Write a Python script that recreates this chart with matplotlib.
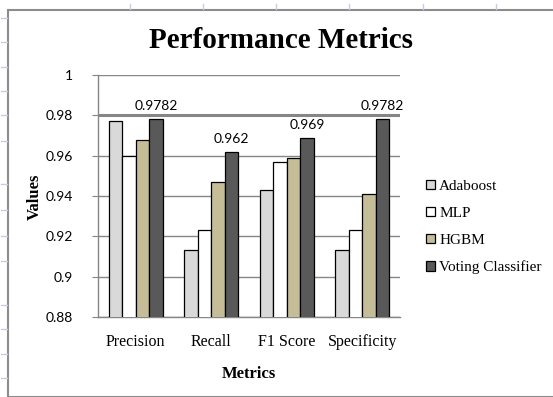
import matplotlib
matplotlib.use("Agg")
import matplotlib.pyplot as plt
from matplotlib.patches import Rectangle
import numpy as np

metrics = ['Precision', 'Recall', 'F1 Score', 'Specificity']
models = ['Adaboost', 'MLP', 'HGBM', 'Voting Classifier']
adaboost = [0.977, 0.913, 0.943, 0.913]
mlp = [0.960, 0.923, 0.957, 0.923]
hgbm = [0.968, 0.947, 0.959, 0.941]
voting = [0.9782, 0.962, 0.969, 0.9782]
voting_labels = ['0.9782', '0.962', '0.969', '0.9782']
colors = ['#d9d9d9', '#ffffff', '#c4bd97', '#595959']
yticks = [0.88, 0.9, 0.92, 0.94, 0.96, 0.98, 1.0]
ytick_labels = ['0.88', '0.9', '0.92', '0.94', '0.96', '0.98', '1']

serif = 'Liberation Serif'
sans = 'Lato'

W, H = 553, 397
fig = plt.figure(figsize=(W / 100, H / 100), dpi=100)
fig.patch.set_facecolor('white')

# spreadsheet behind the chart: border and faint row/column marks
fig.add_artist(Rectangle((8 / W, 0), 1, 1 - 10 / H, transform=fig.transFigure,
                         fill=False, edgecolor='#8c8c8c', lw=1.5))
for y in [18, 42, 67, 91, 115, 141, 184, 210, 236, 261, 305, 329, 354, 378]:
    fig.add_artist(plt.Line2D([1 / W, 7 / W], [1 - y / H] * 2, transform=fig.transFigure,
                              color='#c8cce0', lw=1))
for x in [130, 203, 276, 349, 423, 496]:
    fig.add_artist(plt.Line2D([x / W] * 2, [1 - 4 / H, 1 - 9 / H], transform=fig.transFigure,
                              color='#c8cce0', lw=1))

ax = fig.add_axes([98 / W, 1 - 317 / H, (400 - 98) / W, (317 - 75) / H])

x = np.arange(len(metrics))
width = 0.18
series = [adaboost, mlp, hgbm, voting]
bars = []
for i, vals in enumerate(series):
    b = ax.bar(x + (i - 1.5) * width, vals, width, color=colors[i], edgecolor='black',
               linewidth=0.9, label=models[i], zorder=3)
    bars.append(b)

for rect, lab in zip(bars[3], voting_labels):
    ax.annotate(lab, (rect.get_x() + rect.get_width() / 2, rect.get_height()),
                xytext=(0, 5), textcoords='offset points', ha='center', va='bottom',
                fontsize=10, family=sans, zorder=4)

ax.set_ylim(0.88, 1.0)
ax.set_xlim(-0.5, 3.5)
ax.set_yticks(yticks)
ax.set_yticklabels(ytick_labels, family=sans, fontsize=10)
ax.set_xticks(x)
ax.set_xticklabels(metrics, family=serif, fontsize=11.5)
ax.tick_params(axis='x', length=0, pad=12)
ax.tick_params(axis='y', length=4, color='#868686', pad=14)
ax.grid(axis='y', color='#868686', linewidth=1, zorder=0)
ax.axhline(0.98, color='#868686', linewidth=2.2, zorder=1)
for s in ['top', 'right']:
    ax.spines[s].set_visible(False)
for s in ['left', 'bottom']:
    ax.spines[s].set_color('#868686')
    ax.spines[s].set_linewidth(1)

fig.text(281 / W, 1 - 40 / H, 'Performance Metrics', ha='center', va='center',
         family=serif, fontweight='bold', fontsize=21)
fig.text(35 / W, 1 - 197 / H, 'Values', ha='center', va='center', rotation=90,
         family=serif, fontweight='bold', fontsize=12)
fig.text(249 / W, 1 - 374 / H, 'Metrics', ha='center', va='center',
         family=serif, fontweight='bold', fontsize=12)

fig.legend(handles=bars, labels=models, loc='center left',
           bbox_to_anchor=(420 / W, 1 - 227 / H), frameon=False,
           prop={'family': serif, 'size': 11}, handlelength=0.6, handleheight=0.6,
           handletextpad=0.25, labelspacing=0.9, borderaxespad=0)

fig.savefig('out.png', dpi=100)
